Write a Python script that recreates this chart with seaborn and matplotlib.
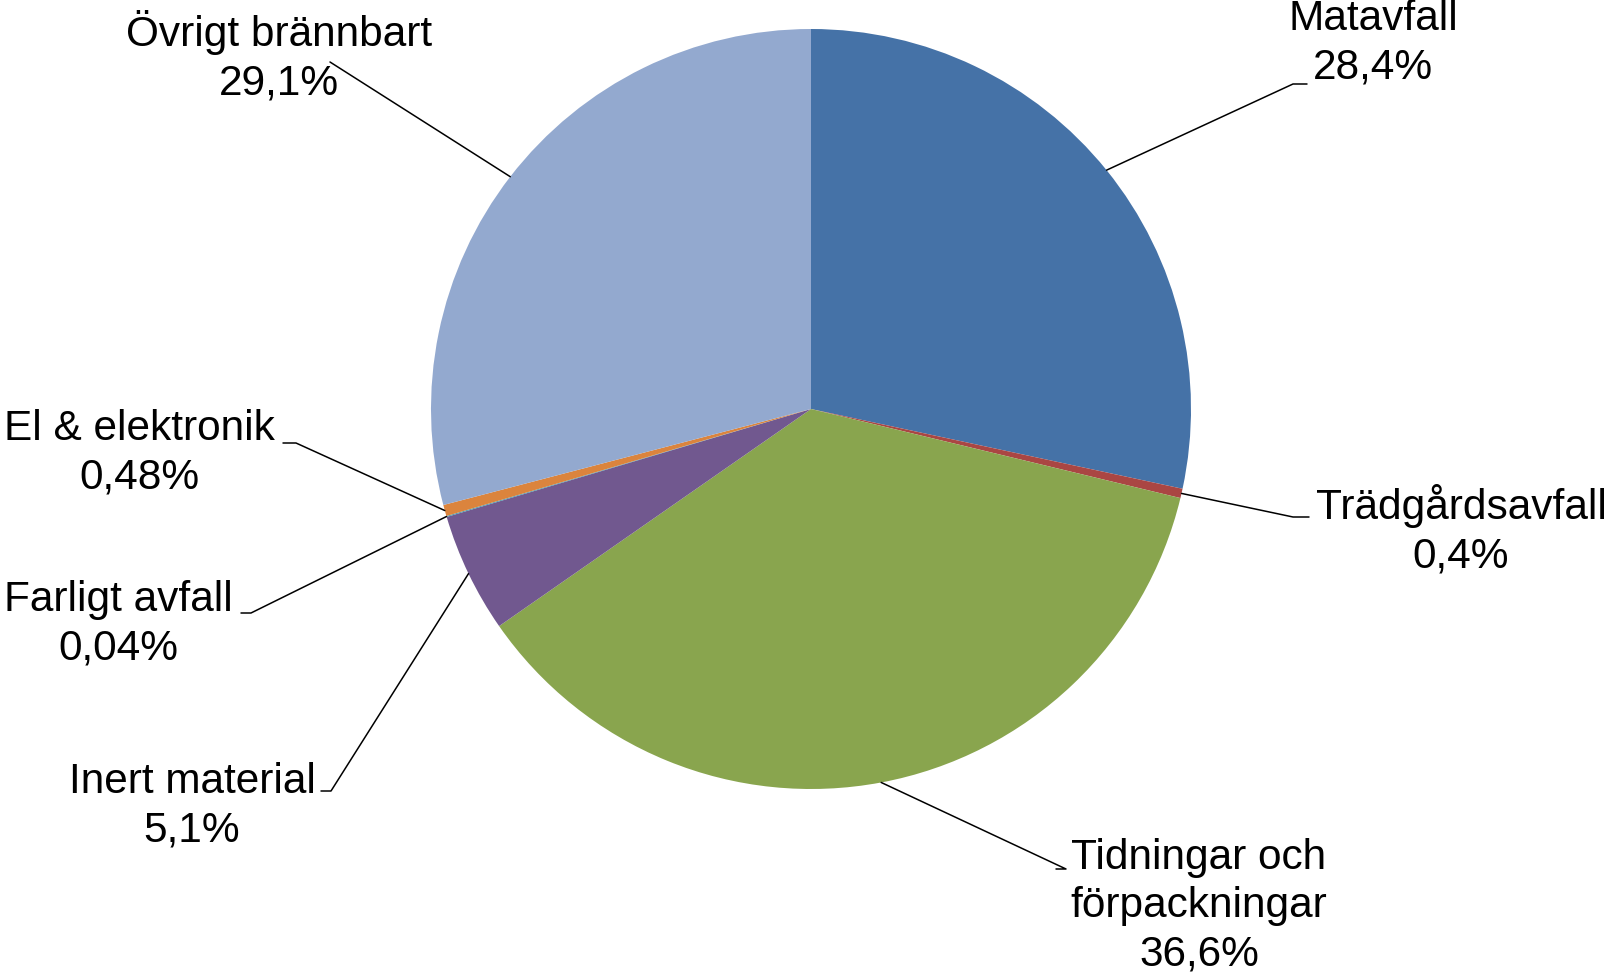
import numpy as np
import matplotlib
matplotlib.use('Agg')
import matplotlib.pyplot as plt
import seaborn as sns

sns.set_style('white')
plt.rcParams['font.family'] = ['Liberation Sans', 'DejaVu Sans']

# data
categories = ['Matavfall', 'Trädgårdsavfall', 'Tidningar och\nförpackningar',
              'Inert material', 'Farligt avfall', 'El & elektronik', 'Övrigt brännbart']
values = [28.4, 0.4, 36.6, 5.1, 0.04, 0.48, 29.1]
pct_labels = ['28,4%', '0,4%', '36,6%', '5,1%', '0,04%', '0,48%', '29,1%']
colors = ['#4572A7', '#AA4643', '#89A54E', '#71588F', '#4198AF', '#DB843D', '#93A9CF']

W, H = 1607, 976
fig = plt.figure(figsize=(W / 100, H / 100), dpi=100)
ax = fig.add_axes([0, 0, 1, 1])

cx, cy, r = 811, H - 409, 380
wedges, _ = ax.pie(values, colors=colors, startangle=90, counterclock=False,
                   center=(cx, cy), radius=r, wedgeprops=dict(linewidth=0))
ax.set_xlim(0, W)
ax.set_ylim(0, H)
ax.set_aspect('auto')
ax.axis('off')

# label positions (pixel coords from top-left) and leader elbows
text_pos = [(1373, 43), (1461, 530), (1199, 906), (192, 806), (118, 624), (139, 453), (279, 57)]
elbows = [[(1307, 84), (1293, 84)],
          [(1309, 517), (1293, 517)],
          [(1056, 869), (1066, 869)],
          [(321, 791), (331, 791)],
          [(241, 613), (251, 613)],
          [(283, 443), (296, 443)],
          [(330, 62)]]

for w, cat, pct, (tx, ty), elb in zip(wedges, categories, pct_labels, text_pos, elbows):
    ang = np.deg2rad((w.theta1 + w.theta2) / 2)
    ex, ey = cx + r * np.cos(ang), cy + r * np.sin(ang)
    xs = [p[0] for p in elb] + [ex]
    ys = [H - p[1] for p in elb] + [ey]
    ax.plot(xs, ys, color='black', lw=1.1)
    ax.text(tx, H - ty, cat + '\n' + pct, ha='center', va='center',
            fontsize=30.5, linespacing=1.27, color='black')

fig.savefig('out.png', dpi=100)
